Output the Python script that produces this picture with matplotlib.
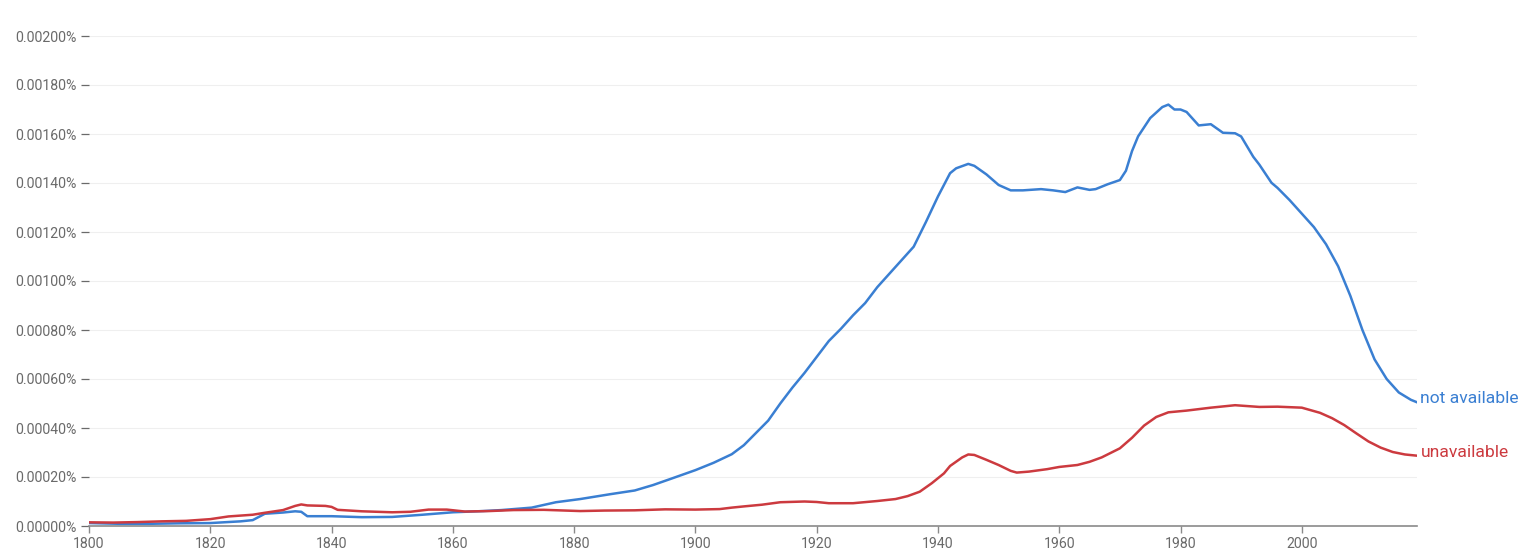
import matplotlib
matplotlib.use("Agg")
import matplotlib.pyplot as plt
from matplotlib.ticker import FuncFormatter

plt.rcParams['font.family'] = ['Roboto', 'DejaVu Sans']

years_na = [1800, 1805, 1810, 1815, 1820, 1825, 1827, 1829, 1832, 1834, 1835, 1836, 1838, 1840,
            1845, 1850, 1855, 1860, 1865, 1868, 1873, 1877, 1881, 1886, 1890, 1893, 1896, 1900,
            1903, 1906, 1908, 1910, 1912, 1914, 1916, 1918, 1920, 1922, 1924, 1926, 1928, 1930,
            1932, 1934, 1936, 1938, 1940, 1942, 1943, 1945, 1946, 1948, 1950, 1952, 1954, 1957,
            1959, 1961, 1963, 1965, 1966, 1968, 1970, 1971, 1972, 1973, 1975, 1977, 1978, 1979,
            1980, 1981, 1983, 1985, 1987, 1989, 1990, 1992, 1993, 1995, 1996, 1998, 2000, 2002,
            2004, 2006, 2008, 2010, 2012, 2014, 2016, 2018, 2019]
not_available = [0.000012, 0.000009, 0.000009, 0.000011, 0.000012, 0.000019, 0.000024, 0.000050,
                 0.000055, 0.000060, 0.000058, 0.000040, 0.000040, 0.000040, 0.000036, 0.000037,
                 0.000046, 0.000056, 0.000061, 0.000065, 0.000075, 0.000097, 0.000110, 0.000130,
                 0.000145, 0.000167, 0.000193, 0.000228, 0.000258, 0.000293, 0.000330, 0.000380,
                 0.000430, 0.000500, 0.000565, 0.000625, 0.000690, 0.000755, 0.000805, 0.000860,
                 0.000910, 0.000975, 0.001030, 0.001085, 0.001140, 0.001240, 0.001345, 0.001440,
                 0.001460, 0.001478, 0.001470, 0.001435, 0.001392, 0.001370, 0.001370, 0.001375,
                 0.001370, 0.001363, 0.001382, 0.001372, 0.001375, 0.001395, 0.001412, 0.001450,
                 0.001530, 0.001590, 0.001665, 0.001710, 0.001720, 0.001700, 0.001700, 0.001690,
                 0.001635, 0.001640, 0.001605, 0.001603, 0.001590, 0.001507, 0.001475, 0.001401,
                 0.001380, 0.001330, 0.001275, 0.001220, 0.001150, 0.001060, 0.000940, 0.000800,
                 0.000680, 0.000600, 0.000545, 0.000515, 0.000505]

years_un = [1800, 1804, 1808, 1812, 1816, 1820, 1823, 1827, 1829, 1832, 1834, 1835, 1836, 1839,
            1840, 1841, 1845, 1850, 1853, 1856, 1859, 1862, 1866, 1870, 1875, 1881, 1885, 1890,
            1895, 1900, 1904, 1906, 1908, 1911, 1914, 1918, 1920, 1922, 1926, 1930, 1933, 1935,
            1937, 1939, 1941, 1942, 1944, 1945, 1946, 1948, 1950, 1952, 1953, 1955, 1958, 1960,
            1963, 1965, 1967, 1970, 1972, 1974, 1976, 1978, 1981, 1985, 1989, 1993, 1996, 2000,
            2003, 2005, 2007, 2009, 2011, 2013, 2015, 2017, 2019]
unavailable = [0.000015, 0.000014, 0.000016, 0.000019, 0.000021, 0.000028, 0.000039, 0.000046,
               0.000054, 0.000065, 0.000082, 0.000088, 0.000084, 0.000082, 0.000078, 0.000066,
               0.000060, 0.000056, 0.000058, 0.000067, 0.000067, 0.000059, 0.000061, 0.000065,
               0.000066, 0.000061, 0.000063, 0.000064, 0.000068, 0.000067, 0.000069, 0.000075,
               0.000080, 0.000087, 0.000097, 0.000100, 0.000098, 0.000093, 0.000093, 0.000102,
               0.000110, 0.000122, 0.000140, 0.000175, 0.000215, 0.000245, 0.000280, 0.000292,
               0.000290, 0.000270, 0.000249, 0.000225, 0.000218, 0.000222, 0.000232, 0.000241,
               0.000249, 0.000262, 0.000280, 0.000317, 0.000360, 0.000410, 0.000445, 0.000464,
               0.000471, 0.000483, 0.000493, 0.000486, 0.000487, 0.000483, 0.000462, 0.000440,
               0.000412, 0.000378, 0.000345, 0.000320, 0.000302, 0.000292, 0.000287]

x_ticks = [1800, 1820, 1840, 1860, 1880, 1900, 1920, 1940, 1960, 1980, 2000]
y_ticks = [0.0, 0.0002, 0.0004, 0.0006, 0.0008, 0.0010, 0.0012, 0.0014, 0.0016, 0.0018, 0.0020]

BLUE = "#3a7fd2"
RED = "#cc3a3f"
GRAY = "#6a6a6a"

fig = plt.figure(figsize=(15.36, 5.59), dpi=100)
ax = fig.add_axes([89 / 1536, 33 / 559, (1417 - 89) / 1536, 490 / 559])

ax.plot(years_na, not_available, color=BLUE, lw=1.8, solid_joinstyle='round', zorder=3)
ax.plot(years_un, unavailable, color=RED, lw=1.8, solid_joinstyle='round', zorder=3)

ax.set_xlim(1800, 2019)
ax.set_ylim(0, 0.0020)
ax.set_xticks(x_ticks)
ax.set_yticks(y_ticks)
ax.yaxis.set_major_formatter(FuncFormatter(lambda v, p: f"{v:.5f}%"))

for y in y_ticks[1:]:
    ax.axhline(y, color="#efefef", lw=0.8, zorder=1)

for s in ['top', 'right', 'left']:
    ax.spines[s].set_visible(False)
ax.spines['bottom'].set_color("#8a8a8a")
ax.spines['bottom'].set_linewidth(1.2)
ax.tick_params(axis='x', colors="#8a8a8a", labelcolor=GRAY, length=5, width=1, labelsize=10.2, pad=3)
ax.tick_params(axis='y', colors=GRAY, labelcolor=GRAY, length=6, width=0.9, labelsize=10.2, pad=3)

ax.annotate("not available", xy=(years_na[-1], not_available[-1]), xytext=(2.5, 2.5),
            textcoords='offset points', color=BLUE, fontsize=12.6, va='center', ha='left',
            annotation_clip=False)
ax.annotate("unavailable", xy=(years_un[-1], unavailable[-1]), xytext=(2.5, 2.5),
            textcoords='offset points', color=RED, fontsize=12.6, va='center', ha='left',
            annotation_clip=False)

fig.savefig("out.png", dpi=100)
